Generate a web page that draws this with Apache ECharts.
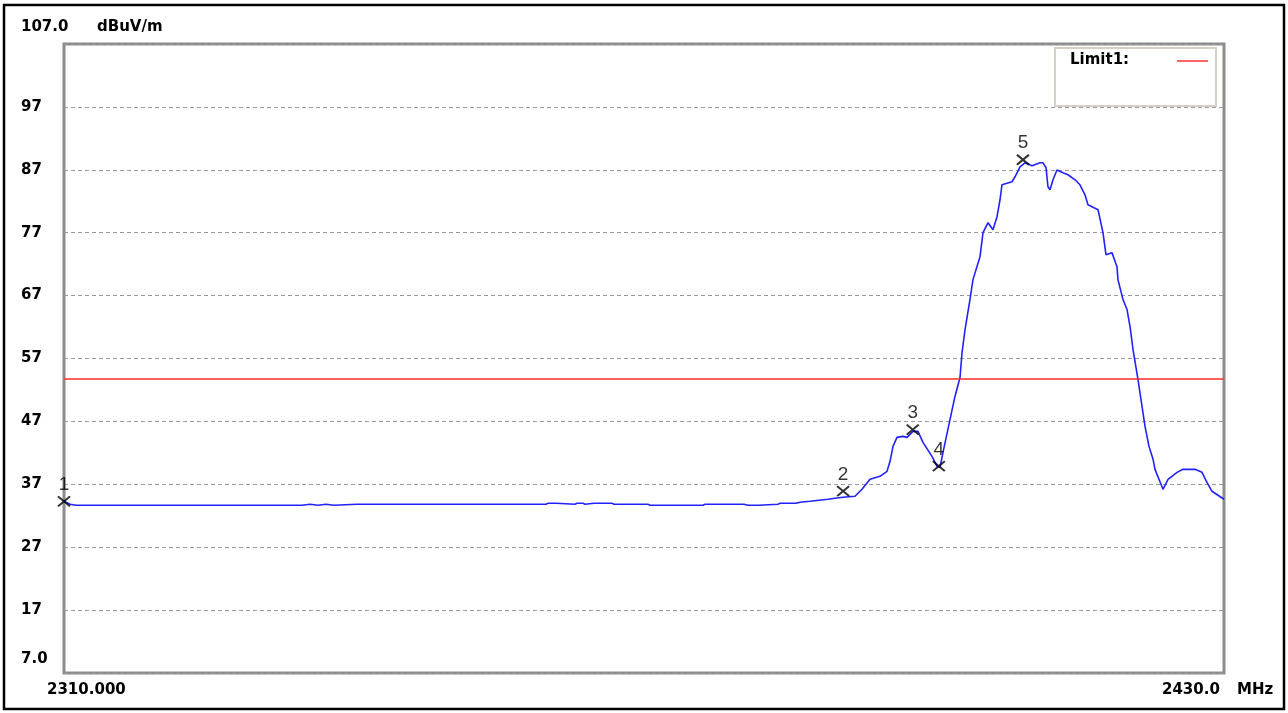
<!DOCTYPE html>
<html><head><meta charset="utf-8">
<script src="https://cdn.jsdelivr.net/npm/echarts@6/dist/echarts.min.js"></script>
<style>html,body{margin:0;padding:0;background:#fff}#c{width:1288px;height:713px}</style>
</head><body><div id="c"></div>
<script>
// Trace: frequency (MHz) and level (dBuV/m)
var freqs = [2310,2310.62,2311.24,2334.62,2335.45,2336.28,2337.10,2337.93,2340.31,2359.86,2360.07,2360.90,2361.10,2362.86,2363.07,2363.69,2363.90,2364.83,2366.69,2366.90,2370.41,2370.62,2376.10,2376.31,2380.34,2380.76,2381.90,2382.10,2383.86,2384.07,2385.72,2386.14,2387.17,2389.03,2389.76,2390.59,2391.83,2392.55,2393.38,2394.41,2395.14,2395.45,2395.76,2396.17,2396.79,2397.21,2397.83,2398.34,2398.86,2399.79,2400.31,2400.62,2400.93,2401.66,2402.17,2402.69,2402.90,2403.21,2403.72,2404.03,2404.76,2405.07,2405.59,2406.10,2406.52,2406.83,2407.03,2408.07,2408.38,2408.90,2409.41,2410.14,2410.97,2411.28,2411.59,2411.79,2412.00,2412.31,2412.72,2413.34,2413.86,2414.59,2415.10,2415.62,2415.93,2416.97,2417.48,2417.79,2418.41,2418.93,2419.03,2419.55,2419.97,2420.28,2420.59,2421.10,2421.52,2421.83,2422.24,2422.66,2422.86,2423.69,2424.21,2425.14,2425.76,2427.00,2427.72,2428.24,2428.76,2430];
var levels = [34.30,33.83,33.67,33.67,33.83,33.67,33.83,33.67,33.83,33.83,33.98,33.98,33.83,33.83,33.98,33.98,33.83,33.98,33.98,33.83,33.83,33.67,33.67,33.83,33.83,33.67,33.67,33.83,33.83,33.98,33.98,34.14,34.30,34.62,34.78,34.94,35.10,36.21,37.79,38.27,39.06,40.65,43.03,44.46,44.62,44.46,45.41,45.41,43.67,41.44,39.86,39.70,42.08,47.32,50.97,53.98,57.95,61.60,66.37,69.54,73.19,77.00,78.59,77.48,79.54,82.24,84.62,85.10,85.89,87.48,88.11,87.63,88.11,88.11,87.32,84.30,83.83,85.41,86.97,86.52,86.21,85.41,84.62,83.03,81.44,80.65,77.00,73.51,73.83,71.60,69.54,66.37,64.78,62.08,58.43,53.67,49.38,46.21,43.03,40.97,39.38,36.21,37.79,38.90,39.38,39.38,38.90,37.32,35.89,34.62];
// Markers
var markerNames = ['1','2','3','4','5'];
var markerFreqs = [2310, 2390.6, 2397.8, 2400.5, 2409.2];
var markerLevels = [34.3, 35.9, 45.7, 39.9, 88.6];
// Limit
var limitName = 'Limit1:';
var limitLevel = 53.8;
// Axis
var yMin = 7, yMax = 107, yStep = 10;
var xMin = 2310, xMax = 2430;
var yUnit = 'dBuV/m';
var xStartLabel = '2310.000', xEndLabel = '2430.0', xUnit = 'MHz';

var traceData = freqs.map(function(f,i){return [f, levels[i]];});
var markerData = markerFreqs.map(function(f,i){return {value:[f, markerLevels[i]], name: markerNames[i]};});

var FONT = '"DejaVu Sans", sans-serif';
var BF = 'bold 15px ' + FONT;
function txt(x, y, s){
  return {type:'text', x:x, y:y, style:{text:s, font:BF, fill:'#000', align:'left', verticalAlign:'middle'}, silent:true, z:20};
}
var chart = echarts.init(document.getElementById('c'), null, {renderer:'canvas'});
chart.setOption({
  animation:false,
  backgroundColor:'#fff',
  grid:{left:64, top:44, right:64, bottom:40, show:true, borderColor:'#8c8c8c', borderWidth:3, backgroundColor:'#fff'},
  xAxis:{type:'value', min:xMin, max:xMax, axisLine:{show:false}, axisTick:{show:false}, axisLabel:{show:false}, splitLine:{show:false}},
  yAxis:{type:'value', min:yMin, max:yMax, interval:yStep,
    axisLine:{show:false}, axisTick:{show:false},
    axisLabel:{align:'left', margin:43, fontFamily:FONT, fontWeight:'bold', fontSize:15, color:'#000', padding:[0,0,3,0],
      formatter:function(v){ return (v===yMin||v===yMax)?'':String(v); }},
    splitLine:{show:true, lineStyle:{color:'#9a9a9a', type:[4,3], width:1}}},
  series:[
    {type:'line', data:traceData, symbol:'none', lineStyle:{color:'#2222ff', width:1.6}, z:3,
     markLine:{silent:true, symbol:'none', label:{show:false}, lineStyle:{color:'#ff2a2a', width:1.5, type:'solid'}, data:[{yAxis:limitLevel}]}},
    {type:'scatter', data:markerData, symbol:'path://M0,0L12,10M12,0L0,10', symbolSize:[12,10],
     itemStyle:{color:'none', borderColor:'#000', borderWidth:2}, z:5,
     label:{show:true, position:'top', distance:0, formatter:function(p){return p.name;}, fontFamily:'"Liberation Sans", Arial, sans-serif', fontSize:19, color:'#000'}}
  ],
  graphic:[
    {type:'rect', shape:{x:4, y:5, width:1280, height:704}, style:{fill:'none', stroke:'#000', lineWidth:2.5}, silent:true},
    txt(21, 27, String(yMax.toFixed(1))),
    txt(97, 27, yUnit),
    txt(21, 659, String(yMin.toFixed(1))),
    txt(47, 690, xStartLabel),
    txt(1162, 690, xEndLabel),
    txt(1237, 690, xUnit),
    {type:'rect', shape:{x:1055, y:48, width:161, height:58}, style:{fill:'#fff', stroke:'#d4d0c8', lineWidth:2}, z:10},
    txt(1070, 60, limitName),
    {type:'line', shape:{x1:1177, y1:61, x2:1208, y2:61}, style:{stroke:'#ff3333', lineWidth:1.5}, z:11}
  ]
});
</script></body></html>
